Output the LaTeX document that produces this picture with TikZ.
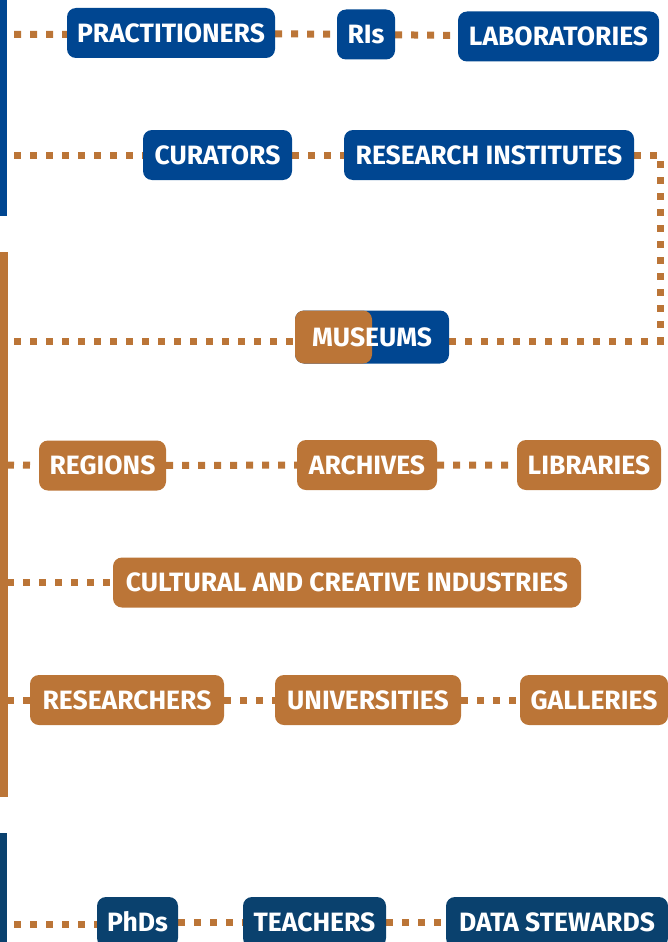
\documentclass[tikz,border=0pt]{standalone}
\usepackage{fontspec}
\setmainfont{Fira Sans}
\usetikzlibrary{backgrounds}

\definecolor{ochre}{RGB}{187,117,55}
\definecolor{royal}{RGB}{0,70,145}
\definecolor{navy}{RGB}{10,65,110}

\tikzset{
	tag/.style={rounded corners=9pt, text=white, inner sep=0pt, minimum height=50pt,
		font=\bfseries\fontsize{26.5}{26.5}\selectfont},
	dots/.style={ochre, line width=7pt, dash pattern=on 7pt off 9pt},
}

\begin{document}
\begin{tikzpicture}[x=1pt, y=-1pt]
	\useasboundingbox (0,0) rectangle (667,942);
	% side bars
	\fill[royal] (0,0) rectangle (7,216);
	\fill[ochre] (0,252) rectangle (8,797);
	\fill[navy] (0,833) rectangle (7,942);

	\node[tag, fill=royal, minimum width=208pt] (prac) at (171,33) {PRACTITIONERS};
	\node[tag, fill=royal, minimum width=58pt] (ris) at (366,34.5) {RIs};
	\node[tag, fill=royal, minimum width=201pt] (lab) at (558.5,36.5) {LABORATORIES};
	\node[tag, fill=royal, minimum width=149pt] (cur) at (217.5,155) {CURATORS};
	\node[tag, fill=royal, minimum width=290pt] (ri) at (489,155) {RESEARCH INSTITUTES};
	\node[tag, fill=royal, minimum width=154pt, minimum height=53pt,
		path picture={\fill[ochre] (path picture bounding box.south west) rectangle (path picture bounding box.north);}]
		(mus) at (372,337) {MUSEUMS};
	\node[tag, fill=ochre, minimum width=127pt] (reg) at (102.5,465.5) {REGIONS};
	\node[tag, fill=ochre, minimum width=140pt] (arc) at (367,465) {ARCHIVES};
	\node[tag, fill=ochre, minimum width=144pt] (lib) at (589,465) {LIBRARIES};
	\node[tag, fill=ochre, minimum width=468pt] (cci) at (347,582.5) {CULTURAL AND CREATIVE INDUSTRIES};
	\node[tag, fill=ochre, minimum width=194pt] (res) at (127,700) {RESEARCHERS};
	\node[tag, fill=ochre, minimum width=186pt] (uni) at (368,700) {UNIVERSITIES};
	\node[tag, fill=ochre, minimum width=148pt] (gal) at (594,700) {GALLERIES};
	\node[tag, fill=navy, minimum width=81pt] (phd) at (137.5,922) {PhDs};
	\node[tag, fill=navy, minimum width=143pt] (tea) at (314.5,922) {TEACHERS};
	\node[tag, fill=navy, minimum width=222pt] (dat) at (557,922) {DATA STEWARDS};

	\coordinate (s1) at (14,34.5);
	\coordinate (s2) at (14,155);
	\coordinate (bend) at (660,155);
	\coordinate (s3) at (14,341);
	\coordinate (s4) at (7,465);
	\coordinate (s5) at (7,582.5);
	\coordinate (s6) at (7,700);
	\coordinate (s7) at (14,924);

	\begin{scope}[on background layer]
	\draw[dots] (s1) -- (s1 -| prac.west) (prac) -- (ris) -- (lab);
	\draw[dots] (s2) -- (cur) -- (ri) -- (bend) |- (s3 -| mus.east);
	\draw[dots] (s3) -- (s3 -| mus.west);
	\draw[dots] (s4) -- (reg) -- (arc) -- (lib);
	\draw[dots] (s5) -- (cci);
	\draw[dots] (s6) -- (res) -- (uni) -- (gal);
	\draw[dots] (s7) -- (s7 -| phd.west) (phd) -- (tea) -- (dat);
	\end{scope}
\end{tikzpicture}
\end{document}
